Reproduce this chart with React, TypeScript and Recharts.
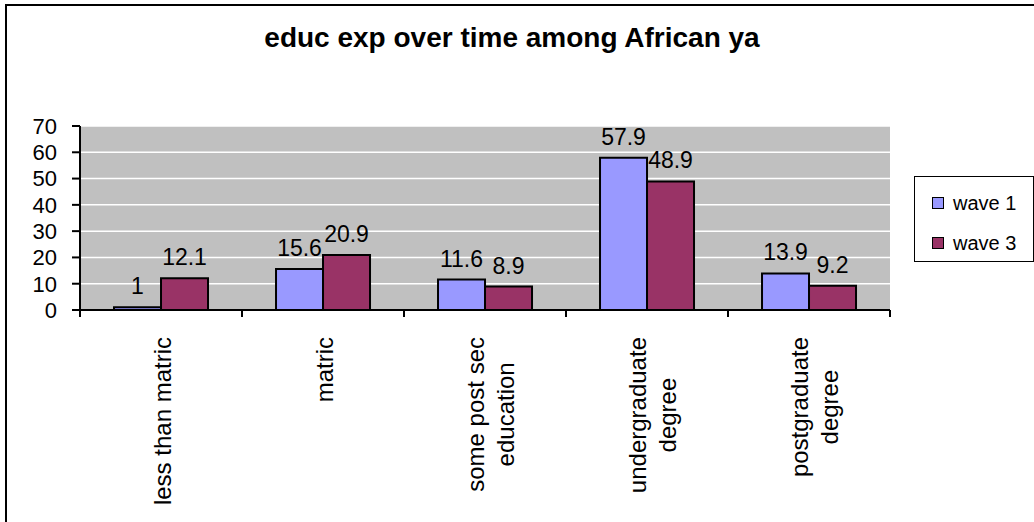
import React from "react";
import { BarChart, Bar, XAxis, YAxis, CartesianGrid, LabelList, Legend } from "recharts";

const categories = [
  "less than matric",
  "matric",
  "some post sec\neducation",
  "undergraduate\ndegree",
  "postgraduate\ndegree",
];
const wave1 = [1, 15.6, 11.6, 57.9, 13.9];
const wave3 = [12.1, 20.9, 8.9, 48.9, 9.2];
const yTicks = [0, 10, 20, 30, 40, 50, 60, 70];

const data = categories.map((name, i) => ({ name, wave1: wave1[i], wave3: wave3[i] }));

const FONT = "'Liberation Sans', Arial, sans-serif";
const W = 1034;
const H = 522;
const MARGIN = { top: 126, right: 144, bottom: 12, left: 0 };
const Y_AXIS_W = 80;
const BAND = (W - MARGIN.left - MARGIN.right - Y_AXIS_W) / categories.length;
const CAT_FONT = 24;

const series = [
  { key: "wave1", name: "wave 1", color: "#9999FF" },
  { key: "wave3", name: "wave 3", color: "#993366" },
];

let measureCtx: CanvasRenderingContext2D | null = null;
function textWidth(s: string, size: number) {
  if (!measureCtx) measureCtx = document.createElement("canvas").getContext("2d");
  if (!measureCtx) return s.length * size * 0.5;
  measureCtx.font = `${size}px ${FONT}`;
  return measureCtx.measureText(s).width;
}

// rotated category labels, lines centred on the longest one, plus boundary tick marks
const CategoryTick = (props: any) => {
  const { x, y, payload, index } = props;
  const lines = String(payload.value).split("\n");
  const longest = Math.max(...lines.map((l) => textWidth(l, CAT_FONT)));
  const cy = y + 27 + longest / 2;
  const n = lines.length;
  return (
    <g>
      <line x1={x - BAND / 2} y1={y} x2={x - BAND / 2} y2={y + 7} stroke="#000" strokeWidth={2} />
      {index === categories.length - 1 && (
        <line x1={x + BAND / 2} y1={y} x2={x + BAND / 2} y2={y + 7} stroke="#000" strokeWidth={2} />
      )}
      {lines.map((line, i) => {
        const lx = x + 2 + (i - (n - 1) / 2) * 30 + (n - 1) * 4;
        return (
          <text
            key={i}
            x={lx}
            y={cy}
            transform={`rotate(-90 ${lx} ${cy})`}
            textAnchor="middle"
            dominantBaseline="central"
            fontSize={CAT_FONT}
            fontFamily={FONT}
            fill="#000"
          >
            {line}
          </text>
        );
      })}
    </g>
  );
};

const LegendBox = () => (
  <div
    style={{
      width: 120,
      height: 86,
      boxSizing: "border-box",
      border: "1.5px solid #000",
      background: "#fff",
      position: "relative",
      fontFamily: FONT,
      fontSize: 20,
    }}
  >
    {series.map((s, i) => (
      <div
        key={s.key}
        style={{ position: "absolute", left: 17, top: 14 + i * 40, display: "flex", alignItems: "center", height: 24 }}
      >
        <span
          style={{
            width: 12,
            height: 12,
            boxSizing: "border-box",
            background: s.color,
            border: "1.5px solid #000",
            marginRight: 9,
          }}
        />
        <span>{s.name}</span>
      </div>
    ))}
  </div>
);

export default function App() {
  return (
    <div style={{ position: "relative", width: W, height: H, overflow: "hidden", background: "#fff" }}>
      <style>{"body{margin:0;overflow:hidden}"}</style>
      <div
        style={{
          position: "absolute",
          left: 5,
          top: 4,
          width: W + 40,
          height: H + 40,
          borderLeft: "2px solid #000",
          borderTop: "2px solid #000",
        }}
      />
      <div
        style={{
          position: "absolute",
          left: 0,
          top: 24,
          width: 1024,
          textAlign: "center",
          fontFamily: FONT,
          fontWeight: "bold",
          fontSize: 28,
          lineHeight: "28px",
        }}
      >
        educ exp over time among African ya
      </div>
      <BarChart
        width={W}
        height={H}
        data={data}
        margin={MARGIN}
        barCategoryGap="21%"
        barGap={0}
        style={{ position: "absolute", left: 0, top: 0 }}
      >
        <CartesianGrid vertical={false} fill="#C0C0C0" stroke="#fff" strokeWidth={1.5} />
        <XAxis
          dataKey="name"
          height={H - MARGIN.top - MARGIN.bottom - 184}
          interval={0}
          tickLine={false}
          tickSize={0}
          tickMargin={0}
          axisLine={{ stroke: "#000", strokeWidth: 2 }}
          tick={<CategoryTick />}
        />
        <YAxis
          width={Y_AXIS_W}
          domain={[0, 70]}
          ticks={yTicks}
          interval={0}
          tickSize={8}
          tickMargin={15}
          axisLine={{ stroke: "#000", strokeWidth: 2 }}
          tickLine={{ stroke: "#000", strokeWidth: 2 }}
          tick={{ fill: "#000", fontSize: 22, fontFamily: FONT }}
        />
        <Legend
          layout="vertical"
          align="center"
          verticalAlign="middle"
          content={<LegendBox />}
          wrapperStyle={{ left: 914, top: 176, width: 120, height: 86 }}
        />
        {series.map((s) => (
          <Bar key={s.key} dataKey={s.key} name={s.name} fill={s.color} stroke="#000" strokeWidth={2} isAnimationActive={false}>
            <LabelList dataKey={s.key} position="top" offset={13} fill="#000" fontSize={23} fontFamily={FONT} />
          </Bar>
        ))}
      </BarChart>
    </div>
  );
}
